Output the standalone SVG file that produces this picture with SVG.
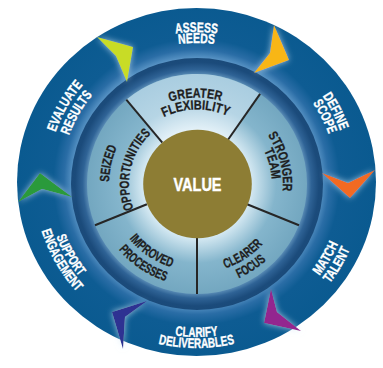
<svg xmlns="http://www.w3.org/2000/svg" width="383" height="368" viewBox="0 0 383 368">
<style>
.o{fill:#ffffff;stroke:#ffffff;stroke-width:0.35;font-family:"Liberation Sans",Arial,sans-serif;font-weight:bold;font-size:13.8px}
.i{fill:#1e1e1e;stroke:#1e1e1e;stroke-width:0.3;font-family:"Liberation Sans",Arial,sans-serif;font-weight:bold;font-size:13.3px}
.div{stroke:#262626;stroke-width:2;fill:none}
.chev{filter:url(#glow)}
</style>
<defs>
<radialGradient id="band" gradientUnits="userSpaceOnUse" cx="196.5" cy="182" r="179">
<stop offset="0.69" stop-color="#5a95c6"/>
<stop offset="0.74" stop-color="#2a6da6"/>
<stop offset="0.8" stop-color="#0e5c93"/>
<stop offset="1" stop-color="#0a5a90"/>
</radialGradient>
<radialGradient id="ring" gradientUnits="userSpaceOnUse" cx="197" cy="184" r="127">
<stop offset="0.86" stop-color="#5d8fb8"/>
<stop offset="0.9" stop-color="#2f6396"/>
<stop offset="0.96" stop-color="#1b4b7b"/>
<stop offset="1" stop-color="#1a4a79"/>
</radialGradient>
<radialGradient id="seg" gradientUnits="userSpaceOnUse" cx="197" cy="184" r="110">
<stop offset="0.5" stop-color="#d2e7f1"/>
<stop offset="0.72" stop-color="#84b5cc"/>
<stop offset="1" stop-color="#73a7c0"/>
</radialGradient>
<radialGradient id="segL" gradientUnits="userSpaceOnUse" cx="197" cy="184" r="110">
<stop offset="0.5" stop-color="#e2f0f7"/>
<stop offset="0.72" stop-color="#b6d5e5"/>
<stop offset="1" stop-color="#a9cde0"/>
</radialGradient>
<filter id="glow" x="-50%" y="-50%" width="200%" height="200%">
<feGaussianBlur in="SourceAlpha" stdDeviation="3" result="b"/>
<feFlood flood-color="#cfe6f6" flood-opacity="0.75"/>
<feComposite in2="b" operator="in"/>
<feMerge><feMergeNode/><feMergeNode in="SourceGraphic"/></feMerge>
</filter>
<path id="pASSESS" d="M66.6,107 A150,150 0 0 1 326.4,107"/>
<path id="pNEEDS" d="M76.1,112.5 A139,139 0 0 1 316.9,112.5"/>
<path id="pDEFINE" d="M204.5,29.7 A152.5,152.5 0 0 1 324.4,265.1"/>
<path id="pSCOPE" d="M203.9,41.7 A140.5,140.5 0 0 1 314.4,258.5"/>
<path id="pMATCH" d="M195.2,336.5 A154.5,154.5 0 0 0 331,105.9"/>
<path id="pTALENT" d="M195,349.5 A167.5,167.5 0 0 0 342.3,99.5"/>
<path id="pCLARIFY" d="M62.3,259.5 A155,155 0 0 0 330.7,259.5"/>
<path id="pDELIV" d="M52.7,265 A166,166 0 0 0 340.3,265"/>
<path id="pSUPPORT" d="M66.1,106.8 A150.5,150.5 0 0 0 196.5,332.5"/>
<path id="pENGAGE" d="M55.8,100.8 A162.5,162.5 0 0 0 196.5,344.5"/>
<path id="pEVAL" d="M67.1,256.8 A149.5,149.5 0 0 1 196.5,32.5"/>
<path id="pRESULTS" d="M79.1,249.8 A135.5,135.5 0 0 1 196.5,46.5"/>
<path id="pGREATER" d="M121.3,142.1 A86.5,86.5 0 0 1 271.1,139.5"/>
<path id="pFLEX" d="M131.8,147.9 A74.5,74.5 0 0 1 260.9,145.6"/>
<path id="pSTRONGER" d="M219.2,100.9 A86,86 0 0 1 257.8,244.8"/>
<path id="pTEAM" d="M216.4,111.6 A75,75 0 0 1 250,237"/>
<path id="pCLEARER" d="M156.6,263.3 A89,89 0 0 0 285.9,179.3"/>
<path id="pFOCUS" d="M150.3,275.8 A103,103 0 0 0 299.9,178.6"/>
<path id="pIMPROVED" d="M110.2,177.9 A87,87 0 0 0 235.1,262.2"/>
<path id="pPROCESSES" d="M95.2,176.9 A102,102 0 0 0 241.7,275.7"/>
<path id="pSEIZED" d="M137,248.3 A88,88 0 0 1 171.3,99.8"/>
<path id="pOPP" d="M150.6,233.8 A68,68 0 0 1 177.1,119"/>
</defs>

<g id="wheel-base">
<ellipse cx="196.5" cy="182" rx="179.5" ry="174" fill="url(#band)"/>
<circle cx="197" cy="184" r="126" fill="url(#ring)"/>
</g>

<g id="connectors">
<polygon class="chev" points="97,37 133,47 127,82 116,56" fill="#c8dc28"/>
<polygon class="chev" points="274,25 289,60 254,73 270,53" fill="#f8b612"/>
<polygon class="chev" points="375,170 350,198 322,173 348,183" fill="#f26a21"/>
<polygon class="chev" points="301,331 264,323 271,289 277,312" fill="#93278f"/>
<polygon class="chev" points="123,349 112,312 147,301 125,317" fill="#2e3192"/>
<polygon class="chev" points="18,202 40,173 72,197 42,189" fill="#2b9a3b"/>
</g>

<g id="assess-needs">
<text class="o"><textPath href="#pASSESS" startOffset="50%" text-anchor="middle" textLength="42" lengthAdjust="spacingAndGlyphs">ASSESS</textPath></text>
<text class="o"><textPath href="#pNEEDS" startOffset="50%" text-anchor="middle" textLength="36" lengthAdjust="spacingAndGlyphs">NEEDS</textPath></text>
</g>
<g id="define-scope">
<text class="o"><textPath href="#pDEFINE" startOffset="50%" text-anchor="middle" textLength="39" lengthAdjust="spacingAndGlyphs">DEFINE</textPath></text>
<text class="o"><textPath href="#pSCOPE" startOffset="50%" text-anchor="middle" textLength="35" lengthAdjust="spacingAndGlyphs">SCOPE</textPath></text>
</g>
<g id="match-talent">
<text class="o"><textPath href="#pMATCH" startOffset="50%" text-anchor="middle" textLength="37" lengthAdjust="spacingAndGlyphs">MATCH</textPath></text>
<text class="o"><textPath href="#pTALENT" startOffset="50%" text-anchor="middle" textLength="40" lengthAdjust="spacingAndGlyphs">TALENT</textPath></text>
</g>
<g id="clarify-deliverables">
<text class="o"><textPath href="#pCLARIFY" startOffset="50%" text-anchor="middle" textLength="43" lengthAdjust="spacingAndGlyphs">CLARIFY</textPath></text>
<text class="o"><textPath href="#pDELIV" startOffset="50%" text-anchor="middle" textLength="77" lengthAdjust="spacingAndGlyphs">DELIVERABLES</textPath></text>
</g>
<g id="support-engagement">
<text class="o"><textPath href="#pSUPPORT" startOffset="50%" text-anchor="middle" textLength="46" lengthAdjust="spacingAndGlyphs">SUPPORT</textPath></text>
<text class="o"><textPath href="#pENGAGE" startOffset="50%" text-anchor="middle" textLength="71" lengthAdjust="spacingAndGlyphs">ENGAGEMENT</textPath></text>
</g>
<g id="evaluate-results">
<text class="o"><textPath href="#pEVAL" startOffset="50%" text-anchor="middle" textLength="55" lengthAdjust="spacingAndGlyphs">EVALUATE</textPath></text>
<text class="o"><textPath href="#pRESULTS" startOffset="50%" text-anchor="middle" textLength="47" lengthAdjust="spacingAndGlyphs">RESULTS</textPath></text>
</g>

<g id="segments">
<circle cx="197" cy="184" r="110" fill="url(#seg)"/>
<path d="M197,184 L126.3,99.7 A110,110 0 0 1 260.1,93.9 Z" fill="url(#segL)"/>
<line class="div" x1="162.3" y1="142.6" x2="126.3" y2="99.7"/>
<line class="div" x1="228" y1="139.8" x2="260.1" y2="93.9"/>
<line class="div" x1="247.1" y1="204.2" x2="299" y2="225.2"/>
<line class="div" x1="197" y1="238" x2="197" y2="294"/>
<line class="div" x1="146.9" y1="204.2" x2="95" y2="225.2"/>
</g>
<g id="greater-flexibility">
<text class="i"><textPath href="#pGREATER" startOffset="50%" text-anchor="middle" textLength="52" lengthAdjust="spacingAndGlyphs">GREATER</textPath></text>
<text class="i"><textPath href="#pFLEX" startOffset="50%" text-anchor="middle" textLength="66" lengthAdjust="spacingAndGlyphs">FLEXIBILITY</textPath></text>
</g>
<g id="stronger-team">
<text class="i"><textPath href="#pSTRONGER" startOffset="50%" text-anchor="middle" textLength="59" lengthAdjust="spacingAndGlyphs">STRONGER</textPath></text>
<text class="i"><textPath href="#pTEAM" startOffset="50%" text-anchor="middle" textLength="30" lengthAdjust="spacingAndGlyphs">TEAM</textPath></text>
</g>
<g id="clearer-focus">
<text class="i"><textPath href="#pCLEARER" startOffset="50%" text-anchor="middle" textLength="45" lengthAdjust="spacingAndGlyphs">CLEARER</textPath></text>
<text class="i"><textPath href="#pFOCUS" startOffset="50%" text-anchor="middle" textLength="33" lengthAdjust="spacingAndGlyphs">FOCUS</textPath></text>
</g>
<g id="improved-processes">
<text class="i"><textPath href="#pIMPROVED" startOffset="50%" text-anchor="middle" textLength="52" lengthAdjust="spacingAndGlyphs">IMPROVED</textPath></text>
<text class="i"><textPath href="#pPROCESSES" startOffset="50%" text-anchor="middle" textLength="57" lengthAdjust="spacingAndGlyphs">PROCESSES</textPath></text>
</g>
<g id="seized-opportunities">
<text class="i"><textPath href="#pSEIZED" startOffset="50%" text-anchor="middle" textLength="36" lengthAdjust="spacingAndGlyphs">SEIZED</textPath></text>
<text class="i"><textPath href="#pOPP" startOffset="50%" text-anchor="middle" textLength="82" lengthAdjust="spacingAndGlyphs">OPPORTUNITIES</textPath></text>
</g>
<g id="value">
<circle cx="197.5" cy="184" r="54.3" fill="#8d7d34"/>
<text x="197.5" y="190.5" text-anchor="middle" textLength="48" lengthAdjust="spacingAndGlyphs" fill="#ffffff" stroke="#ffffff" stroke-width="0.4" font-family="Liberation Sans, Arial, sans-serif" font-weight="bold" font-size="17.5">VALUE</text>
</g>
</svg>
